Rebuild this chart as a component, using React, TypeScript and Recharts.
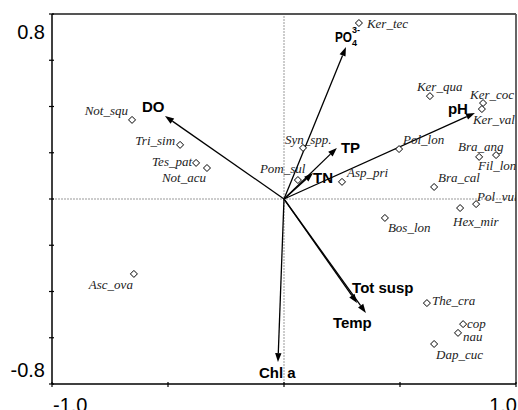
import React from 'react';
import { ScatterChart, Scatter, XAxis, YAxis, ReferenceLine } from 'recharts';

// ---- data ----
const speciesNames = ['Not_squ', 'Tri_sim', 'Tes_pat', 'Not_acu', 'Ker_tec', 'Ker_qua', 'Ker_coc', 'Ker_val', 'Syn_spp.', 'Pol_lon', 'Bra_ang', 'Fil_lon', 'Pom_sul', 'Asp_pri', 'Bra_cal', 'Pol_vul', 'Hex_mir', 'Bos_lon', 'The_cra', 'cop', 'nau', 'Dap_cuc', 'Asc_ova'];
const speciesX = [-0.655, -0.448, -0.379, -0.332, 0.323, 0.629, 0.858, 0.853, 0.082, 0.496, 0.841, 0.914, 0.06, 0.25, 0.647, 0.828, 0.759, 0.435, 0.616, 0.772, 0.75, 0.647, -0.647];
const speciesY = [0.342, 0.234, 0.156, 0.134, 0.761, 0.445, 0.415, 0.389, 0.221, 0.216, 0.182, 0.19, 0.082, 0.074, 0.052, -0.022, -0.039, -0.082, -0.45, -0.541, -0.579, -0.627, -0.324];

const envNames = ['DO', 'PO4', 'pH', 'TP', 'TN', 'Chl a', 'Tot susp', 'Temp'];
const envX = [-0.513, 0.267, 0.823, 0.228, 0.125, -0.026, 0.315, 0.353];
const envY = [0.359, 0.657, 0.372, 0.221, 0.112, -0.705, -0.45, -0.493];

const xTicks = [-1, -0.5, 0, 0.5, 1];
const yTicks = [-0.8, -0.6, -0.4, -0.2, 0, 0.2, 0.4, 0.6, 0.8];

// ---- label placement (pixel offsets, layout only) ----
const speciesLabelPos: Record<string, [string, number, number]> = {
  'Not_squ': ['end', -4, -9],
  'Tri_sim': ['end', -5, -4],
  'Tes_pat': ['end', -4, -1],
  'Not_acu': ['end', -1, 9],
  'Ker_tec': ['start', 8, 0],
  'Ker_qua': ['start', -13, -10],
  'Ker_coc': ['start', -13, -9],
  'Ker_val': ['start', -9, 10],
  'Syn_spp.': ['start', -18, -8],
  'Pol_lon': ['start', 4, -10],
  'Bra_ang': ['start', -21, -10],
  'Fil_lon': ['start', -18, 10],
  'Pom_sul': ['start', -38, -12],
  'Asp_pri': ['start', 5, -9],
  'Bra_cal': ['start', 4, -9],
  'Pol_vul': ['start', 1, -8],
  'Hex_mir': ['start', -7, 13],
  'Bos_lon': ['start', 3, 10],
  'The_cra': ['start', 5, -3],
  'cop': ['start', 4, -1],
  'nau': ['start', 5, 4],
  'Dap_cuc': ['start', 2, 11],
  'Asc_ova': ['end', -1, 11],
};

const envLabelPos: Record<string, [number, number]> = {
  'DO': [-23, -3.5],
  'PO4': [-11, -5],
  'pH': [-27, 1],
  'TP': [4, 5],
  'TN': [0, 10],
  'Chl a': [-19, 16],
  'Tot susp': [-5, -10],
  'Temp': [-33, 15],
};

const speciesData = speciesNames.map((n, i) => ({ name: n, x: speciesX[i], y: speciesY[i] }));

const SANS = '"Liberation Sans", Arial, Helvetica, sans-serif';
const SERIF = '"Liberation Serif", "Times New Roman", Times, serif';

const SpeciesShape = (props: any) => {
  const { cx, cy, payload } = props;
  if (cx == null || cy == null) return null;
  const [anchor, dx, dy] = speciesLabelPos[payload.name] || ['start', 5, 0];
  const s = 3.5;
  return (
    <g>
      <polygon
        points={`${cx},${cy - s} ${cx + s},${cy} ${cx},${cy + s} ${cx - s},${cy}`}
        fill="#fff"
        stroke="#000"
        strokeWidth={1}
      />
      <text
        x={cx + dx}
        y={cy + dy + 4.5}
        textAnchor={anchor as any}
        fontFamily={SERIF}
        fontStyle="italic"
        fontSize={13}
        fill="#222"
      >
        {payload.name}
      </text>
    </g>
  );
};

const makeArrowShape = (name: string) => (p: any) => {
  const { x1, y1, x2, y2 } = p;
  const ang = Math.atan2(y2 - y1, x2 - x1);
  const L = 9;
  const W = 3.2;
  const bx = x2 - L * Math.cos(ang);
  const by = y2 - L * Math.sin(ang);
  const px = -Math.sin(ang) * W;
  const py = Math.cos(ang) * W;
  const [dx, dy] = envLabelPos[name] || [4, 0];
  const lx = x2 + dx;
  const ly = y2 + dy;
  return (
    <g>
      <line x1={x1} y1={y1} x2={bx} y2={by} stroke="#000" strokeWidth={1.3} />
      <polygon points={`${x2},${y2} ${bx + px},${by + py} ${bx - px},${by - py}`} fill="#000" />
      {name === 'PO4' ? (
        <g fontFamily={SANS} fontWeight="bold" fill="#000">
          <text x={lx} y={ly} fontSize={14} textLength={17} lengthAdjust="spacingAndGlyphs">PO</text>
          <text x={lx + 17} y={ly - 9} fontSize={9}>3-</text>
          <text x={lx + 17} y={ly + 4} fontSize={9}>4</text>
        </g>
      ) : (
        <text x={lx} y={ly} fontFamily={SANS} fontWeight="bold" fontSize={15} fill="#000">
          {name}
        </text>
      )}
    </g>
  );
};

const near = (a: number, b: number) => Math.abs(a - b) < 1e-6;

const XTick = (props: any) => {
  const { x, y, payload } = props;
  const v = payload.value;
  return (
    <g>
      <line x1={x} x2={x} y1={y - 2} y2={y + 3} stroke="#000" strokeWidth={1.2} />
      {near(v, -1) && (
        <text x={x + 1} y={y + 27.5} textAnchor="start" fontFamily={SANS} fontSize={20} fill="#000">-1.0</text>
      )}
      {near(v, 1) && (
        <text x={x + 1} y={y + 27.5} textAnchor="end" fontFamily={SANS} fontSize={20} fill="#000">1.0</text>
      )}
    </g>
  );
};

const YTick = (props: any) => {
  const { x, y, payload } = props;
  const v = payload.value;
  return (
    <g>
      <line x1={x - 3} x2={x + 2} y1={y} y2={y} stroke="#000" strokeWidth={1.2} />
      {near(v, 0.8) && (
        <text x={x - 7} y={y + 25} textAnchor="end" fontFamily={SANS} fontSize={20} fill="#000">0.8</text>
      )}
      {near(v, -0.8) && (
        <text x={x - 7} y={y - 7} textAnchor="end" fontFamily={SANS} fontSize={20} fill="#000">-0.8</text>
      )}
    </g>
  );
};

export default function App() {
  return (
    <div style={{ position: 'absolute', left: 0, top: 0, width: 518, height: 410, background: '#fff' }}>
      <ScatterChart width={518} height={410} margin={{ top: 14, right: 2, bottom: 0, left: 0 }}>
        <XAxis
          type="number"
          dataKey="x"
          domain={[-1, 1]}
          ticks={xTicks}
          interval={0}
          height={26}
          tickSize={0}
          tickMargin={0}
          tickLine={false}
          allowDataOverflow
          axisLine={{ stroke: '#000', strokeWidth: 1.5 }}
          tick={(p: any) => <XTick {...p} />}
        />
        <YAxis
          type="number"
          dataKey="y"
          domain={[-0.8, 0.8]}
          ticks={yTicks}
          interval={0}
          width={52}
          tickSize={0}
          tickMargin={0}
          tickLine={false}
          allowDataOverflow
          axisLine={{ stroke: '#000', strokeWidth: 1.5 }}
          tick={(p: any) => <YTick {...p} />}
        />
        <ReferenceLine y={0} stroke="#999" strokeDasharray="2 1" strokeWidth={1} ifOverflow="extendDomain" />
        <ReferenceLine x={0} stroke="#999" strokeDasharray="2 1" strokeWidth={1} ifOverflow="extendDomain" />
        <ReferenceLine y={0.8} stroke="#555" strokeWidth={1.8} />
        <ReferenceLine x={1} stroke="#555" strokeWidth={1.8} />
        {envNames.map((n, i) => (
          <ReferenceLine
            key={n}
            segment={[{ x: 0, y: 0 }, { x: envX[i], y: envY[i] }]}
            ifOverflow="visible"
            shape={makeArrowShape(n)}
          />
        ))}
        <Scatter data={speciesData} isAnimationActive={false} shape={SpeciesShape} />
      </ScatterChart>
    </div>
  );
}
